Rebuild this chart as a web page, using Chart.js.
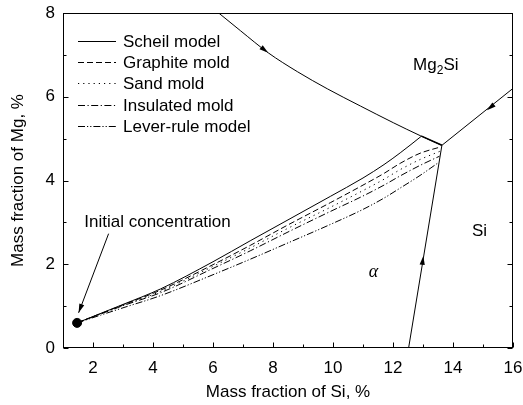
<!DOCTYPE html>
<html>
<head>
<meta charset="utf-8">
<script src="https://cdn.jsdelivr.net/npm/chart.js@4.4.1/dist/chart.umd.min.js"></script>
<style>
  html, body { margin: 0; padding: 0; background: #fff; }
  #wrap { width: 523px; height: 405px; }
</style>
</head>
<body>
<div id="wrap"><canvas id="chart"></canvas></div>
<script>
// Axis ranges and tick labels
const xRange = [1, 16];
const yRange = [0, 8];
const xLabelTicks = [2, 4, 6, 8, 10, 12, 14, 16];
const yLabelTicks = [0, 2, 4, 6, 8];

// Solidification paths (Mass fraction of Si, Mg in %)
const seriesNames = ["Scheil model", "Graphite mold", "Sand mold", "Insulated mold", "Lever-rule model"];
const scheilX = [1.47, 3.0, 4.25, 6.0, 7.24, 8.5, 9.91, 11.0, 11.7, 12.24, 12.6, 12.95];
const scheilY = [0.60, 1.04, 1.41, 2.06, 2.56, 3.06, 3.62, 4.06, 4.38, 4.66, 4.86, 5.06];
const scheilValleyX = [12.95, 13.63];
const scheilValleyY = [5.06, 4.84];
const graphiteX = [1.47, 3.0, 4.25, 6.0, 7.24, 8.5, 9.91, 11.0, 11.7, 12.24, 12.9, 13.58];
const graphiteY = [0.60, 1.03, 1.38, 1.99, 2.45, 2.94, 3.47, 3.89, 4.17, 4.41, 4.65, 4.80];
const sandX = [1.47, 3.0, 4.25, 6.0, 7.24, 8.5, 9.91, 11.0, 11.7, 12.24, 12.9, 13.57];
const sandY = [0.60, 1.02, 1.35, 1.95, 2.39, 2.86, 3.36, 3.76, 4.03, 4.26, 4.50, 4.70];
const insulatedX = [1.47, 3.0, 4.25, 6.0, 7.24, 8.5, 9.91, 11.0, 11.7, 12.24, 12.9, 13.55];
const insulatedY = [0.60, 1.01, 1.32, 1.90, 2.32, 2.77, 3.26, 3.63, 3.89, 4.11, 4.36, 4.58];
const leverX = [1.47, 3.0, 4.25, 6.0, 7.24, 8.5, 9.91, 11.0, 11.7, 12.24, 12.9, 13.5];
const leverY = [0.60, 0.96, 1.25, 1.75, 2.12, 2.51, 2.95, 3.31, 3.58, 3.82, 4.12, 4.42];

// Phase boundaries
const mg2siAlphaX = [6.19, 6.91, 7.84, 8.81, 9.81, 10.91, 12.01, 12.91, 13.63];
const mg2siAlphaY = [8.0, 7.58, 7.05, 6.60, 6.19, 5.78, 5.38, 5.07, 4.84];
const mg2siSiX = [13.63, 16.0];
const mg2siSiY = [4.84, 6.20];
const alphaSiX = [12.52, 13.63];
const alphaSiY = [0.0, 4.84];

// Initial concentration
const initialX = [1.47];
const initialY = [0.60];

// Arrowheads on boundaries and the pointer to the initial composition: [fromX, fromY, tipX, tipY]
const arrowHeads = [
  [7.5, 7.24, 7.84, 7.05],
  [15.5, 5.89, 15.13, 5.68],
  [12.95, 1.85, 13.01, 2.2],
  [2.52, 2.73, 1.52, 0.84]
];
const pointerX = [2.52, 1.52];
const pointerY = [2.73, 0.84];

// Text labels in data coordinates (left, baseline)
const textLabels = [
  { text: "Initial concentration", x: 1.71, y: 2.90 },
  { text: "Si", x: 14.63, y: 2.68 },
  { text: "α", x: 11.19, y: 1.70, italic: true }
];
const mg2siLabel = { x: 12.67, y: 6.64 };

const toPoints = (xs, ys) => xs.map((v, i) => ({ x: v, y: ys[i] }));
const font = '"Liberation Sans", Arial, sans-serif';

const pathStyle = [
  { dash: [] },
  { dash: [6, 3] },
  { dash: [1.2, 4] },
  { dash: [7, 2.5, 1.2, 2.5] },
  { dash: [7, 2, 1.2, 2, 1.2, 2] }
];
const pathData = [
  toPoints(scheilX, scheilY),
  toPoints(graphiteX, graphiteY),
  toPoints(sandX, sandY),
  toPoints(insulatedX, insulatedY),
  toPoints(leverX, leverY)
];

const datasets = pathData.map((pts, i) => ({
  label: seriesNames[i],
  data: pts,
  showLine: true,
  borderColor: "#000",
  borderWidth: 1,
  borderDash: pathStyle[i].dash,
  pointRadius: 0,
  cubicInterpolationMode: "monotone",
  inLegend: true
}));

const plain = (pts, extra) => Object.assign({
  data: pts, showLine: true, borderColor: "#000", borderWidth: 1, pointRadius: 0
}, extra || {});

datasets.push(plain(toPoints(scheilValleyX, scheilValleyY), { borderWidth: 1.6 }));
datasets.push(plain(toPoints(mg2siAlphaX, mg2siAlphaY), { cubicInterpolationMode: "monotone" }));
datasets.push(plain(toPoints(mg2siSiX, mg2siSiY)));
datasets.push(plain(toPoints(alphaSiX, alphaSiY)));
datasets.push(plain(toPoints(pointerX, pointerY), { clip: false }));
datasets.push({
  data: toPoints(initialX, initialY),
  showLine: false,
  pointRadius: 4.5,
  pointBackgroundColor: "#000",
  pointBorderColor: "#000",
  clip: false
});

const extras = {
  id: "extras",
  afterDatasetsDraw(chart) {
    const { ctx, chartArea: a, scales: { x, y } } = chart;
    ctx.save();
    ctx.strokeStyle = "#000";
    ctx.fillStyle = "#000";
    ctx.lineWidth = 1;
    ctx.setLineDash([]);

    // frame
    const L = Math.round(a.left) + 0.5, R = Math.round(a.right) - 0.5;
    const T = Math.round(a.top) + 0.5, B = Math.round(a.bottom) - 0.5;
    ctx.strokeRect(L, T, R - L, B - T);

    // inward ticks
    ctx.beginPath();
    x.ticks.forEach(t => {
      const px = Math.round(x.getPixelForValue(t.value)) + 0.5;
      const len = xLabelTicks.includes(t.value) ? 5 : 3;
      ctx.moveTo(px, B); ctx.lineTo(px, B - len);
    });
    y.ticks.forEach(t => {
      const py = Math.round(y.getPixelForValue(t.value)) + 0.5;
      const len = yLabelTicks.includes(t.value) ? 5 : 3;
      ctx.moveTo(L, py); ctx.lineTo(L + len, py);
      ctx.moveTo(R, py); ctx.lineTo(R - len, py);
    });
    ctx.stroke();

    // arrowheads
    arrowHeads.forEach(([fx, fy, tx, ty]) => {
      const x0 = x.getPixelForValue(fx), y0 = y.getPixelForValue(fy);
      const x1 = x.getPixelForValue(tx), y1 = y.getPixelForValue(ty);
      const ang = Math.atan2(y1 - y0, x1 - x0);
      const len = 9, half = 2.6;
      ctx.beginPath();
      ctx.moveTo(x1, y1);
      ctx.lineTo(x1 - len * Math.cos(ang) + half * Math.sin(ang), y1 - len * Math.sin(ang) - half * Math.cos(ang));
      ctx.lineTo(x1 - len * Math.cos(ang) - half * Math.sin(ang), y1 - len * Math.sin(ang) + half * Math.cos(ang));
      ctx.closePath();
      ctx.fill();
    });

    // text labels
    ctx.textBaseline = "alphabetic";
    ctx.textAlign = "left";
    textLabels.forEach(l => {
      ctx.font = l.italic ? 'italic 18px "Liberation Serif", serif' : "17px " + font;
      ctx.fillText(l.text, x.getPixelForValue(l.x), y.getPixelForValue(l.y));
    });
    let mx = x.getPixelForValue(mg2siLabel.x);
    const my = y.getPixelForValue(mg2siLabel.y);
    ctx.font = "17px " + font;
    ctx.fillText("Mg", mx, my);
    mx += ctx.measureText("Mg").width;
    ctx.font = "12px " + font;
    ctx.fillText("2", mx, my + 4);
    mx += ctx.measureText("2").width;
    ctx.font = "17px " + font;
    ctx.fillText("Si", mx, my);

    // legend
    ctx.textBaseline = "middle";
    chart.data.datasets.filter(d => d.inLegend).forEach((d, i) => {
      const ly = Math.round(a.top + 28 + i * 21.2) + 0.5;
      ctx.setLineDash(d.borderDash);
      ctx.beginPath();
      ctx.moveTo(a.left + 15, ly);
      ctx.lineTo(a.left + 53, ly);
      ctx.stroke();
      ctx.setLineDash([]);
      ctx.font = "17px " + font;
      ctx.fillText(d.label, a.left + 60, ly + 1);
    });
    ctx.restore();
  }
};

new Chart(document.getElementById("chart"), {
  type: "scatter",
  data: { datasets },
  plugins: [extras],
  options: {
    responsive: true,
    maintainAspectRatio: false,
    animation: false,
    layout: { padding: { top: 13, right: 10, left: 0, bottom: 0 } },
    plugins: { legend: { display: false }, tooltip: { enabled: false } },
    scales: {
      x: {
        type: "linear",
        min: xRange[0],
        max: xRange[1],
        afterFit: s => { s.height = 57; s.paddingLeft = 0; s.paddingRight = 0; },
        grid: { display: false, drawTicks: false },
        border: { display: false },
        ticks: {
          stepSize: 1,
          autoSkip: false,
          maxRotation: 0,
          padding: 10,
          color: "#000",
          font: { size: 17, family: font },
          callback: v => (xLabelTicks.includes(v) ? String(v) : "")
        },
        title: {
          display: true,
          text: "Mass fraction of Si, %",
          color: "#000",
          font: { size: 17, family: font },
          padding: { top: 0, bottom: 2 }
        }
      },
      y: {
        type: "linear",
        min: yRange[0],
        max: yRange[1],
        afterFit: s => { s.width = 63; s.paddingTop = 0; s.paddingBottom = 0; },
        grid: { display: false, drawTicks: false },
        border: { display: false },
        ticks: {
          stepSize: 1,
          autoSkip: false,
          padding: 8,
          color: "#000",
          font: { size: 17, family: font },
          callback: v => (yLabelTicks.includes(v) ? String(v) : "")
        },
        title: {
          display: true,
          text: "Mass fraction of Mg, %",
          color: "#000",
          font: { size: 17, family: font },
          padding: { top: 8, bottom: 0 }
        }
      }
    }
  }
});
</script>
</body>
</html>
